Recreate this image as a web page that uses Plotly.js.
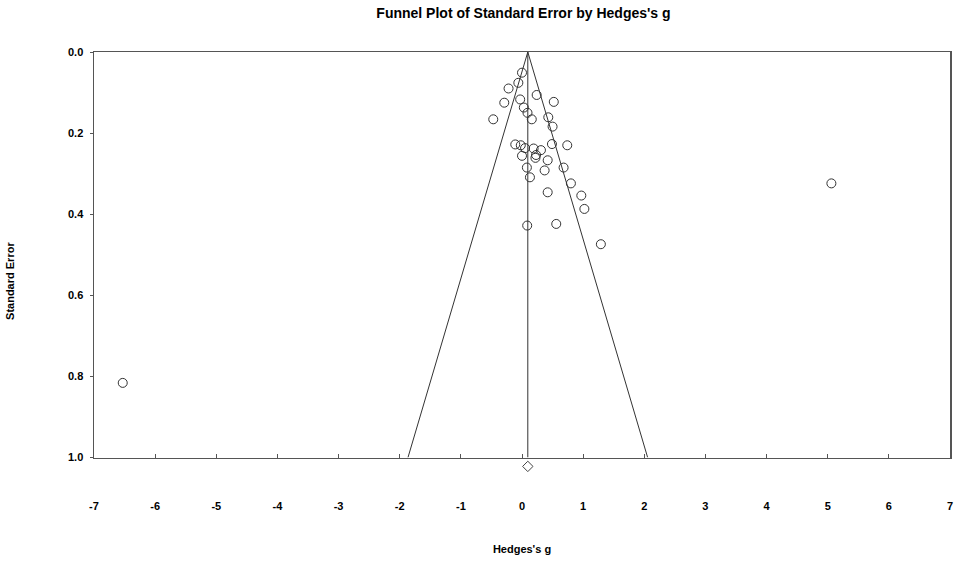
<!DOCTYPE html>
<html>
<head>
<meta charset="utf-8">
<script src="https://cdn.plot.ly/plotly-3.0.1.min.js"></script>
<style>
  html, body { margin: 0; padding: 0; background: #fff; }
  #chart { width: 957px; height: 563px; }
</style>
</head>
<body>
<div id="chart"></div>
<script>
// Study effect sizes (Hedges's g) and their standard errors
const hedgesG = [0.00, -0.06, -0.22, 0.24, -0.29, -0.03, 0.52, 0.03, 0.09, 0.16,
                 -0.47, 0.43, 0.50, -0.11, -0.02, 0.05, 0.19, 0.31, 0.49, 0.74,
                 0.00, 0.23, 0.22, 0.42, 0.08, 0.37, 0.68, 0.13, 0.80, 0.42,
                 0.97, 1.02, 0.085, 0.56, 1.29, 5.06, -6.53];
const stdError = [0.051, 0.076, 0.090, 0.106, 0.125, 0.117, 0.123, 0.137, 0.150, 0.166,
                  0.166, 0.161, 0.184, 0.228, 0.230, 0.237, 0.238, 0.242, 0.227, 0.230,
                  0.256, 0.254, 0.261, 0.267, 0.285, 0.292, 0.285, 0.309, 0.324, 0.346,
                  0.354, 0.387, 0.428, 0.424, 0.474, 0.324, 0.816];

// Pooled estimate, shown as a diamond just below the axis
const pooledG = 0.095;
const pooledMarkerSE = 1.022;
const seMax = 1.0;
const z = 1.96;

const xTicks = [-7, -6, -5, -4, -3, -2, -1, 0, 1, 2, 3, 4, 5, 6, 7];
const yTicks = [0, 0.2, 0.4, 0.6, 0.8, 1.0];

const font = 'Liberation Sans, Arial, sans-serif';

// main box is 405.5px tall, a thin strip below it holds the diamond
const mainPx = 405.5;
const stripPx = 17.5;
const stripFrac = stripPx / (mainPx + stripPx);

const traces = [
    {
        // funnel boundaries
        x: [pooledG - z * seMax, pooledG, pooledG + z * seMax],
        y: [seMax, 0, seMax],
        mode: 'lines',
        line: { color: '#333', width: 1 },
        hoverinfo: 'skip'
    },
    {
        // mean line
        x: [pooledG, pooledG],
        y: [0, seMax],
        mode: 'lines',
        line: { color: '#333', width: 1 },
        hoverinfo: 'skip'
    },
    {
        x: hedgesG,
        y: stdError,
        mode: 'markers',
        marker: { symbol: 'circle-open', size: 9, color: '#333', line: { width: 1 } }
    },
    {
        x: [pooledG],
        y: [pooledMarkerSE],
        xaxis: 'x2',
        yaxis: 'y2',
        mode: 'markers',
        marker: { symbol: 'diamond-open', size: 8, color: '#444', line: { width: 1 } }
    }
];

const layout = {
    width: 957,
    height: 563,
    showlegend: false,
    paper_bgcolor: '#fff',
    plot_bgcolor: '#fff',
    margin: { l: 94, r: 7, t: 52, b: 88 },
    font: { family: font, color: '#000' },
    title: {
        text: "<b>Funnel Plot of Standard Error by Hedges's g</b>",
        font: { size: 14, family: font, color: '#000' },
        x: 0.547, xanchor: 'center',
        y: 0.977, yanchor: 'middle'
    },
    xaxis: {
        range: [-7, 7],
        tickvals: xTicks,
        ticktext: xTicks.map(v => '<b>' + v + '</b>'),
        tickfont: { size: 11 },
        ticks: 'inside',
        ticklen: 4,
        tickcolor: '#555',
        ticklabelstandoff: 38,
        showgrid: false,
        zeroline: false,
        showline: true,
        mirror: true,
        linecolor: '#555',
        linewidth: 1.5,
        title: { text: "<b>Hedges's g</b>", font: { size: 11 }, standoff: 34 }
    },
    yaxis: {
        domain: [stripFrac, 1],
        range: [1.0, 0],
        tickvals: yTicks,
        ticktext: yTicks.map(v => '<b>' + v.toFixed(1) + '</b>'),
        tickfont: { size: 11 },
        ticks: 'outside',
        ticklen: 3,
        tickcolor: '#555',
        ticklabelstandoff: 4,
        showgrid: false,
        zeroline: false,
        showline: true,
        mirror: true,
        linecolor: '#555',
        linewidth: 1.5
    },
    xaxis2: {
        anchor: 'y2',
        matches: 'x',
        visible: false
    },
    yaxis2: {
        anchor: 'x2',
        domain: [0, stripFrac],
        range: [seMax + stripPx / mainPx, seMax],
        visible: false
    },
    annotations: [
        {
            text: '<b>Standard Error</b>',
            textangle: -90,
            font: { size: 11 },
            xref: 'paper', yref: 'paper',
            x: -0.098, y: 0.459,
            xanchor: 'center', yanchor: 'middle',
            showarrow: false
        }
    ]
};

Plotly.newPlot('chart', traces, layout, { displayModeBar: false, staticPlot: true });
</script>
</body>
</html>
